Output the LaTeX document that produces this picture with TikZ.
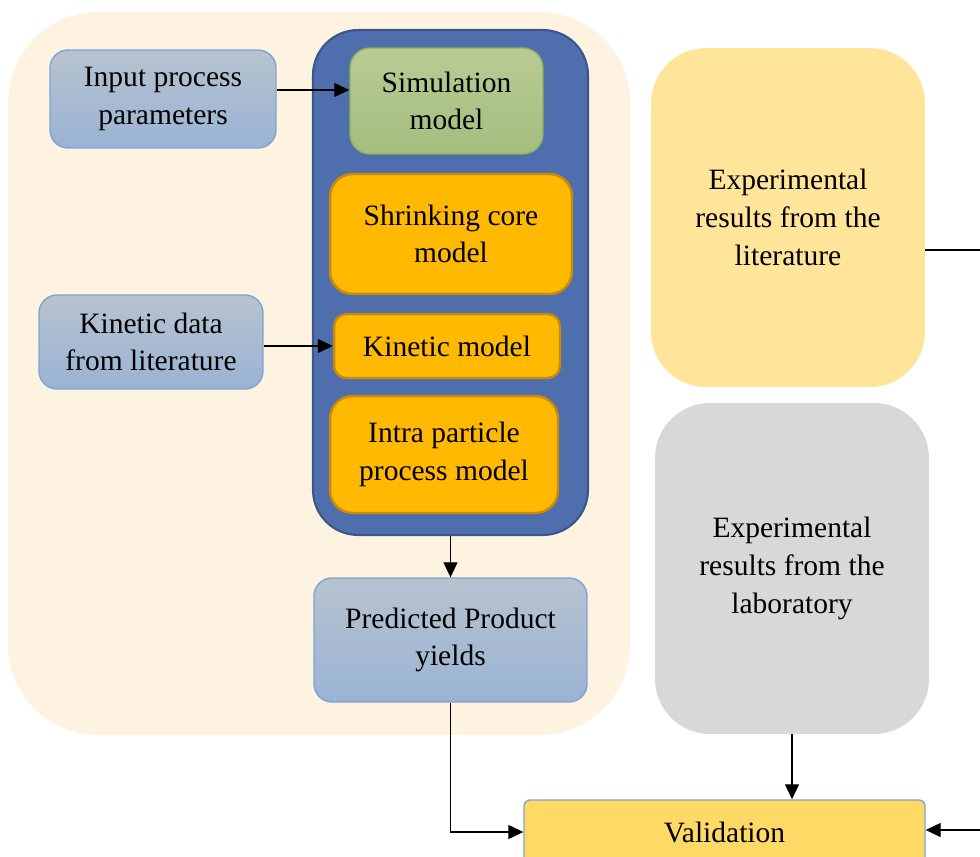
\documentclass[tikz,border=0pt]{standalone}
\usepackage{fontspec}
\setmainfont{Liberation Serif}
\usetikzlibrary{arrows.meta}
\definecolor{peach}{HTML}{FEF3E1}
\definecolor{panelblue}{HTML}{4F6EAD}
\definecolor{paneledge}{HTML}{3C5689}
\definecolor{greytop}{HTML}{B7C3CF}
\definecolor{greybot}{HTML}{9AB3D4}
\definecolor{edgeblue}{HTML}{7DA4D2}
\definecolor{greentop}{HTML}{B8CB93}
\definecolor{greenbot}{HTML}{A4BE7F}
\definecolor{greenedge}{HTML}{8CB356}
\definecolor{orangefill}{HTML}{FFB900}
\definecolor{orangeedge}{HTML}{C98A0C}
\definecolor{litfill}{HTML}{FFE599}
\definecolor{labfill}{HTML}{D8D8D8}
\definecolor{validfill}{HTML}{FFD966}
\begin{document}
\begin{tikzpicture}[x=.02cm, y=-.02cm,
    every node/.style={align=center, inner sep=0pt, font=\rmfamily\fontsize{16.8}{21.5}\selectfont},
    bluebox/.style={draw=edgeblue, line width=.8pt, rounded corners=.36cm, top color=greytop, bottom color=greybot},
    orangebox/.style={draw=orangeedge, fill=orangefill, line width=1.4pt, rounded corners=.45cm},
    bigbox/.style={rounded corners=1.1cm, minimum width=5.48cm},
    arr/.style={-{Triangle[length=.3cm, width=.28cm]}, line width=.7pt}]
  \useasboundingbox (0,0) rectangle (980,856);

  \node [fill=peach, rounded corners=1.8cm, minimum width=12.44cm, minimum height=14.46cm] (bg) at (319,373.5) {};
  \node [fill=panelblue, draw=paneledge, line width=1.2pt, rounded corners=.9cm, minimum width=5.5cm, minimum height=10.1cm] (panel) at (450.5,282.5) {};

  \node [bluebox, minimum width=4.52cm, minimum height=1.96cm] (input) at (163,99) {Input process\\parameters};
  \node [draw=greenedge, line width=.8pt, rounded corners=.4cm, top color=greentop, bottom color=greenbot,
         minimum width=3.86cm, minimum height=2.12cm] (sim) at (446.5,101) {Simulation\\model};
  \node [orangebox, minimum width=4.84cm, minimum height=2.4cm] (shrink) at (451,234) {Shrinking core\\model};
  \node [bluebox, minimum width=4.48cm, minimum height=1.88cm] (kindata) at (151,342) {Kinetic data\\from literature};
  \node [orangebox, rounded corners=.25cm, minimum width=4.52cm, minimum height=1.28cm] (kinmod) at (447,346) {Kinetic model};
  \node [orangebox, minimum width=4.56cm, minimum height=2.34cm] (intra) at (444,454.5) {Intra particle\\process model};
  \node [bluebox, minimum width=5.46cm, minimum height=2.48cm] (pred) at (450.5,640) {Predicted Product\\yields};

  \node [bigbox, fill=litfill, minimum height=6.78cm] (lit) at (788,217.5) {Experimental\\results from the\\literature};
  \node [bigbox, fill=labfill, minimum height=6.62cm] (lab) at (792,568.5) {Experimental\\results from the\\laboratory};
  \node [draw=edgeblue, fill=validfill, line width=.8pt, rounded corners=.12cm, minimum width=8.02cm, minimum height=1.28cm] (valid) at (724.5,832) {Validation};

  \coordinate (litout) at (980,250);
  \coordinate (validin) at (980,830);

  \draw [arr] ([yshift=.18cm]input.east) -- ([yshift=.18cm]input.east -| sim.west);
  \draw [arr] (kinmod.west -| kindata.east) -- (kinmod.west);
  \draw [arr] (panel.south) -- (pred.north);
  \draw [arr] (pred.south) |- (valid.west);
  \draw [arr] (lab.south) -- (lab.south |- valid.north);
  \draw [line width=.7pt] (litout -| lit.east) -- (litout);
  \draw [arr] (validin) -- (validin -| valid.east);
\end{tikzpicture}
\end{document}
